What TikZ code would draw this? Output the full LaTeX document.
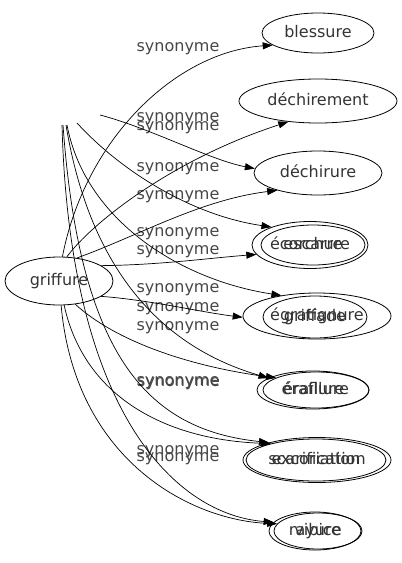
\documentclass[tikz,border=0pt]{standalone}
\usepackage{fontspec}
\setmainfont{DejaVu Sans}
\usetikzlibrary{arrows.meta,shapes.geometric}
\begin{document}
\begin{tikzpicture}[x=1pt,y=-1pt,
  every node/.style={font=\fontsize{16}{19}\selectfont, text=black!80},
  word/.style={draw, ellipse, inner sep=0pt, line width=0.8pt, text height=12pt, text depth=3.5pt},
  lab/.style={text=black!72, text height=12pt, text depth=3.5pt},
  edge/.style={-{Triangle[length=10pt,width=7pt]}, line width=0.7pt}]
\useasboundingbox (0,0) rectangle (402,563);
% nodes
\node[word, minimum width=108pt, minimum height=48pt] (griffure) at (59,281) {griffure};
\node[word, minimum width=112pt, minimum height=40pt] (blessure) at (318,33) {blessure};
\node[word, minimum width=158pt, minimum height=44pt] (dechirement) at (318,101) {déchirement};
\node[word, minimum width=128pt, minimum height=44pt] (dechirure) at (318,173) {déchirure};
\node[word, minimum width=116pt, minimum height=47pt] (ecorchure) at (310,245) {écorchure};
\node[word, minimum width=104pt, minimum height=40pt] (escarre) at (313,245) {escarre};
\node[word, minimum width=148pt, minimum height=46pt] (egratignure) at (317,316) {égratignure};
\node[word, minimum width=104pt, minimum height=42pt] (griffade) at (315,317) {griffade};
\node[word, minimum width=112pt, minimum height=38pt] (eraflure) at (313,390) {éraflure};
\node[word, minimum width=106pt, minimum height=36pt] (eraillure) at (316,390) {éraillure};
\node[word, minimum width=148pt, minimum height=45pt] (scarification) at (317,460) {scarification};
\node[word, minimum width=140pt, minimum height=42pt] (excoriation) at (316,460) {excoriation};
\node[word, minimum width=92pt, minimum height=38pt] (rayure) at (315,531) {rayure};
\node[word, minimum width=88pt, minimum height=36pt] (vibice) at (318,531) {vibice};
% labels
\node[lab] (l1) at (178,47) {synonyme};
\node[lab] (l2) at (178,117) {synonyme};
\node[lab] (l3) at (178,126) {synonyme};
\node[lab] (l4) at (178,167) {synonyme};
\node[lab] (l5) at (178,195) {synonyme};
\node[lab] (l6) at (178,232) {synonyme};
\node[lab] (l7) at (178,250) {synonyme};
\node[lab] (l8) at (178,288) {synonyme};
\node[lab] (l9) at (178,307) {synonyme};
\node[lab] (l10) at (178,326) {synonyme};
\node[lab] (l11) at (178,381) {synonyme};
\node[lab] (l12) at (178.6,382) {synonyme};
\node[lab] (l13) at (178,450) {synonyme};
\node[lab] (l14) at (178,457) {synonyme};
% free ends
\coordinate (p1) at (100,115);
\coordinate (p2) at (77,123);
\coordinate (p3) at (62,125);
\coordinate (p4) at (63,125);
\coordinate (p5) at (66,125);
\coordinate (p6) at (67,125);
% edges
\draw[edge] (griffure.82) .. controls (85,140) and (175,52) .. (blessure.195);
\draw[edge] (griffure.72) .. controls (90,225) and (170,160) .. (dechirement.215);
\draw[edge] (p1) .. controls (150,128) and (210,160) .. (dechirure.176);
\draw[edge] (griffure.52) .. controls (140,235) and (200,200) .. (dechirure.203);
\draw[edge] (p2) .. controls (120,170) and (190,215) .. (ecorchure.155);
\draw[edge] (griffure.20) .. controls (160,265) and (210,258) .. (ecorchure.190);
\draw[edge] (p6) .. controls (85,220) and (180,280) .. (egratignure.150);
\draw[edge] (griffure.340) .. controls (150,300) and (200,312) .. (egratignure.181);
\draw[edge] (p5) .. controls (95,300) and (190,355) .. (eraflure.165);
\draw[edge] (griffure.305) .. controls (120,345) and (200,368) .. (eraillure.163);
\draw[edge] (p4) .. controls (80,360) and (150,430) .. (scarification.160);
\draw[edge] (griffure.282) .. controls (85,400) and (170,440) .. (excoriation.160);
\draw[edge] (p3) .. controls (70,420) and (180,515) .. (rayure.168);
\draw[edge] (griffure.275) .. controls (75,460) and (190,520) .. (vibice.170);
\end{tikzpicture}
\end{document}
